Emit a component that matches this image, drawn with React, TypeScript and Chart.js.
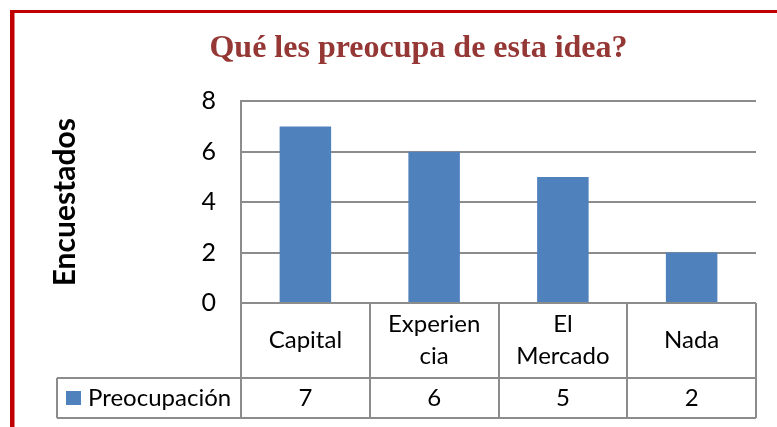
import React, { useEffect, useRef } from "react";
import { Chart, registerables } from "chart.js";

Chart.register(...registerables);

// ---- data ----
const titleText = "Qué les preocupa de esta idea?";
const yAxisTitle = "Encuestados";
const seriesName = "Preocupación";
const categories: string[][] = [["Capital"], ["Experien", "cia"], ["El", "Mercado"], ["Nada"]];
const values: number[] = [7, 6, 5, 2];
const yTicks: number[] = [0, 2, 4, 6, 8];

// ---- styling / layout constants ----
const W = 828;
const H = 440;
const FONT = "Lato";
const GRID = "#8c8c8c";
const BAR = "#4F81BD";
const FRAME = "#C00000";
const TITLE_COLOR = "#953735";
const CAT_ROW_H = 75;
const VAL_ROW_H = 40;
const LEGEND_LEFT = 57;

const framePlugin = {
  id: "frame",
  beforeDraw(chart: any) {
    const { ctx } = chart;
    ctx.save();
    ctx.fillStyle = "#ffffff";
    ctx.fillRect(0, 0, W, H);
    ctx.fillStyle = FRAME;
    ctx.fillRect(10, 10, 4.5, H);
    ctx.fillRect(10, 10, W, 3);
    ctx.restore();
  },
};

const tablePlugin = {
  id: "dataTable",
  afterDraw(chart: any) {
    const { ctx, chartArea } = chart;
    const xs = chart.scales.x;
    const n = categories.length;
    const colW = (chartArea.right - chartArea.left) / n;
    const top = chartArea.bottom;
    const mid = top + CAT_ROW_H;
    const bot = mid + VAL_ROW_H;
    ctx.save();
    ctx.strokeStyle = GRID;
    ctx.lineWidth = 2;
    ctx.beginPath();
    for (let i = 0; i <= n; i++) {
      const x = Math.round(i < n ? xs.getPixelForValue(i) - colW / 2 : xs.getPixelForValue(n - 1) + colW / 2);
      ctx.moveTo(x, top);
      ctx.lineTo(x, bot);
    }
    ctx.moveTo(LEGEND_LEFT, mid);
    ctx.lineTo(chartArea.right, mid);
    ctx.moveTo(LEGEND_LEFT, bot);
    ctx.lineTo(chartArea.right, bot);
    ctx.moveTo(LEGEND_LEFT, mid);
    ctx.lineTo(LEGEND_LEFT, bot);
    ctx.stroke();

    ctx.fillStyle = "#000000";
    ctx.font = `24px ${FONT}`;
    ctx.textAlign = "center";
    ctx.textBaseline = "middle";
    const lh = 32;
    categories.forEach((lines, i) => {
      const cx = xs.getPixelForValue(i);
      const cy = (top + mid) / 2 - ((lines.length - 1) * lh) / 2;
      lines.forEach((t, j) => ctx.fillText(t, cx, cy + j * lh));
      ctx.fillText(String(values[i]), cx, (mid + bot) / 2);
    });

    const rowCy = (mid + bot) / 2;
    ctx.fillStyle = BAR;
    ctx.fillRect(LEGEND_LEFT + 9, rowCy - 7, 15, 14);
    ctx.fillStyle = "#000000";
    ctx.textAlign = "left";
    ctx.fillText(seriesName, LEGEND_LEFT + 31, rowCy);
    ctx.restore();
  },
};

export default function App() {
  const ref = useRef<HTMLCanvasElement | null>(null);

  useEffect(() => {
    if (!ref.current) return;
    const chart = new Chart(ref.current, {
      type: "bar",
      data: {
        labels: categories.map((c) => c.join(" ")),
        datasets: [
          {
            label: seriesName,
            data: values,
            backgroundColor: BAR,
            borderWidth: 0,
            barPercentage: 0.4,
            categoryPercentage: 1,
          },
        ],
      },
      options: {
        responsive: false,
        animation: false,
        devicePixelRatio: 1,
        layout: { padding: { left: 14, top: 13, right: 5, bottom: H - 303 - CAT_ROW_H - VAL_ROW_H } },
        plugins: {
          legend: { display: false },
          tooltip: { enabled: false },
          title: {
            display: true,
            text: titleText,
            color: TITLE_COLOR,
            font: { family: "Liberation Serif", size: 32, weight: "bold" },
            padding: { top: 17, bottom: 33 },
          },
        },
        scales: {
          x: {
            type: "category",
            ticks: { display: false },
            grid: { display: false },
            border: { display: false },
            afterFit: (s: any) => {
              s.height = CAT_ROW_H + VAL_ROW_H;
            },
          },
          y: {
            type: "linear",
            position: "left",
            min: yTicks[0],
            max: yTicks[yTicks.length - 1],
            ticks: {
              stepSize: yTicks[1] - yTicks[0],
              color: "#000000",
              font: { family: FONT, size: 25 },
              padding: 25,
            },
            grid: { color: GRID, lineWidth: 2, drawTicks: false },
            border: { display: true, color: GRID, width: 2 },
            title: {
              display: true,
              text: yAxisTitle,
              color: "#000000",
              font: { family: FONT, size: 30, weight: "bold" },
              padding: { top: 33, bottom: 0 },
            },
            afterFit: (s: any) => {
              s.width = 241 - 14;
            },
          },
          y2: {
            type: "linear",
            position: "right",
            ticks: { display: false },
            grid: { display: false },
            border: { display: false },
            afterFit: (s: any) => {
              s.width = 67;
            },
          },
        },
      },
      plugins: [framePlugin, tablePlugin],
    } as any);
    return () => chart.destroy();
  }, []);

  return (
    <div style={{ position: "fixed", left: 0, top: 0, width: 777, height: 427, overflow: "hidden", background: "#fff" }}>
      <canvas ref={ref} width={W} height={H} style={{ display: "block" }} />
    </div>
  );
}
